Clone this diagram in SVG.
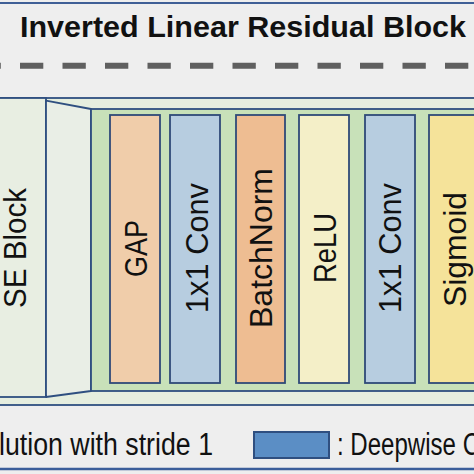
<svg xmlns="http://www.w3.org/2000/svg" width="474" height="474" viewBox="0 0 474 474">
<style>
.ln{stroke:#2f4f80;stroke-width:1.8;}
.col{stroke:#2f4a78;stroke-width:1.8;}
.lbl{font-family:"Liberation Sans",Arial,sans-serif;font-size:32px;fill:#111;text-anchor:middle;}
.lg{font-family:"Liberation Sans",Arial,sans-serif;font-size:31px;fill:#111;}
</style>
<rect x="0" y="0" width="474" height="474" fill="#eeeeee"/>
<line x1="-2" y1="3" x2="476" y2="3" stroke="#3f5f96" stroke-width="2.2"/>
<text id="title" x="20" y="37" font-family="Liberation Sans,Arial,sans-serif" font-weight="bold" font-size="29" fill="#111" textLength="446" lengthAdjust="spacingAndGlyphs">Inverted Linear Residual Block</text>
<line x1="-22.5" y1="65.7" x2="480" y2="65.7" stroke="#5f5f5f" stroke-width="6" stroke-dasharray="23.3 19.2"/>
<rect x="-2" y="98" width="480" height="307" fill="#e6eedf" class="ln"/>
<g id="se-block">
<rect x="-2" y="98" width="48" height="299" fill="#e8eee2" class="ln"/>
<text class="lbl" transform="translate(26,248) rotate(-90)" textLength="120" lengthAdjust="spacingAndGlyphs">SE Block</text>
</g>
<g id="expand">
<polygon points="46,100.7 91,109 91,391 46,397" fill="#e9eee6" class="ln" stroke-linejoin="round"/>
</g>
<g id="se-body">
<rect x="91" y="109" width="390" height="282" fill="#c8e1b9" class="ln"/>
</g>
<g id="gap">
<rect x="110" y="115" width="50" height="268" fill="#f0cdaa" class="col"/>
<text class="lbl" transform="translate(147,248.5) rotate(-90)" textLength="57" lengthAdjust="spacingAndGlyphs">GAP</text>
</g>
<g id="conv1">
<rect x="170" y="115" width="50" height="268" fill="#b7cde0" class="col"/>
<text class="lbl" transform="translate(208,248) rotate(-90)" textLength="130" lengthAdjust="spacingAndGlyphs">1x1 Conv</text>
</g>
<g id="batchnorm">
<rect x="236" y="115" width="49" height="268" fill="#eebd92" class="col"/>
<text class="lbl" transform="translate(272,248) rotate(-90)" textLength="160" lengthAdjust="spacingAndGlyphs">BatchNorm</text>
</g>
<g id="relu">
<rect x="299" y="115" width="50" height="268" fill="#f4efc8" class="col"/>
<text class="lbl" transform="translate(336,248) rotate(-90)" textLength="70" lengthAdjust="spacingAndGlyphs">ReLU</text>
</g>
<g id="conv2">
<rect x="365" y="115" width="50" height="268" fill="#b7cde0" class="col"/>
<text class="lbl" transform="translate(401,248) rotate(-90)" textLength="130" lengthAdjust="spacingAndGlyphs">1x1 Conv</text>
</g>
<g id="sigmoid">
<rect x="429" y="115" width="52" height="268" fill="#f5e39a" class="col"/>
<text class="lbl" transform="translate(466,249.5) rotate(-90)" textLength="115" lengthAdjust="spacingAndGlyphs">Sigmoid</text>
</g>
<g id="connectors"></g>
<g id="legend">
<text class="lg" x="-1" y="455" textLength="214" lengthAdjust="spacingAndGlyphs">lution with stride 1</text>
<rect x="254" y="432" width="75" height="26" fill="#5b8ec5" stroke="#2f4f80" stroke-width="2"/>
<text class="lg" x="337" y="455" textLength="143" lengthAdjust="spacingAndGlyphs">: Deepwise C</text>
</g>
<line x1="-2" y1="469" x2="476" y2="469" stroke="#3b5e9a" stroke-width="2.6"/>
</svg>
